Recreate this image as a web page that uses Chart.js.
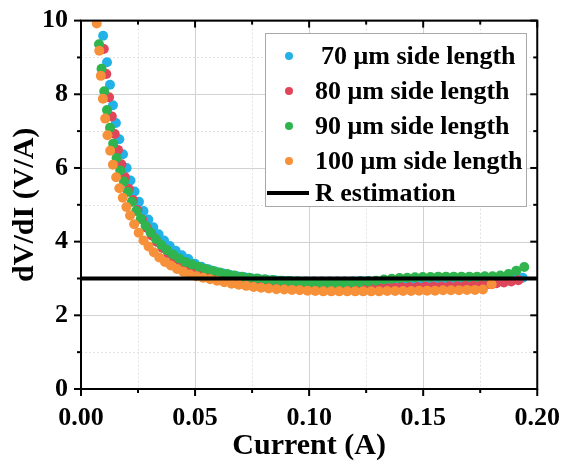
<!DOCTYPE html>
<html>
<head>
<meta charset="utf-8">
<script src="https://cdn.jsdelivr.net/npm/chart.js@4.4.0/dist/chart.umd.min.js"></script>
<style>
  body { margin: 0; background: #fff; }
  #wrap { position: relative; width: 566px; height: 466px; }
  #legend {
    position: absolute; left: 265px; top: 33px; width: 262px; height: 174px;
    border: 1px solid #a8a8a8; background: #fff; box-sizing: border-box;
    font: bold 26px "Liberation Serif", "Times New Roman", serif; color: #000;
  }
  .row { position: absolute; left: 0; height: 30px; line-height: 30px; white-space: nowrap; }
  .dot { position: absolute; left: 19px; top: 11px; width: 8px; height: 8px; border-radius: 50%; }
  .txt { position: absolute; left: 49px; top: 0; }
  .bar { position: absolute; left: 1px; top: 13px; width: 42px; height: 4px; background: #000; }
</style>
</head>
<body>
<div id="wrap">
  <canvas id="chart" width="566" height="466"></canvas>
  <div id="legend"></div>
</div>
<script>
// courant (A) et dV/dI (V/A), une paire de listes par taille de pixel
const i70 = [0.0097, 0.0114, 0.0127, 0.0140, 0.0153, 0.0168, 0.0184, 0.0200, 0.0217, 0.0235, 0.0254, 0.0274, 0.0295, 0.0317, 0.0340, 0.0364, 0.0389, 0.0415, 0.0442, 0.0470, 0.0499, 0.0528, 0.0558, 0.0589, 0.0620, 0.0652, 0.0684, 0.0717, 0.0750, 0.0783, 0.0817, 0.0851, 0.0885, 0.0919, 0.0953, 0.0987, 0.1021, 0.1055, 0.1089, 0.1123, 0.1157, 0.1191, 0.1225, 0.1259, 0.1293, 0.1327, 0.1361, 0.1395, 0.1429, 0.1463, 0.1497, 0.1531, 0.1565, 0.1599, 0.1633, 0.1667, 0.1701, 0.1735, 0.1769, 0.1803, 0.1837, 0.1870, 0.1903, 0.1936];
const r70 = [9.59, 8.87, 8.26, 7.70, 7.22, 6.78, 6.37, 6.00, 5.66, 5.36, 5.08, 4.83, 4.60, 4.39, 4.20, 4.03, 3.88, 3.75, 3.63, 3.53, 3.40, 3.32, 3.25, 3.19, 3.14, 3.10, 3.06, 3.03, 3.00, 2.98, 2.96, 2.95, 2.94, 2.93, 2.92, 2.92, 2.92, 2.92, 2.92, 2.92, 2.92, 2.92, 2.93, 2.93, 2.93, 2.93, 2.93, 2.94, 2.94, 2.94, 2.94, 2.95, 2.95, 2.95, 2.95, 2.96, 2.96, 2.96, 2.97, 2.97, 2.98, 2.99, 3.00, 3.02];

const i80 = [0.0100, 0.0111, 0.0123, 0.0135, 0.0148, 0.0162, 0.0177, 0.0193, 0.0210, 0.0228, 0.0247, 0.0267, 0.0288, 0.0310, 0.0333, 0.0357, 0.0382, 0.0408, 0.0435, 0.0463, 0.0492, 0.0521, 0.0551, 0.0582, 0.0613, 0.0645, 0.0677, 0.0710, 0.0743, 0.0777, 0.0811, 0.0845, 0.0880, 0.0915, 0.0950, 0.0985, 0.1020, 0.1055, 0.1090, 0.1125, 0.1160, 0.1195, 0.1230, 0.1265, 0.1300, 0.1335, 0.1370, 0.1405, 0.1440, 0.1475, 0.1510, 0.1545, 0.1580, 0.1615, 0.1650, 0.1685, 0.1720, 0.1754, 0.1788, 0.1821, 0.1854, 0.1886, 0.1917];
const r80 = [9.23, 8.55, 7.92, 7.40, 6.92, 6.49, 6.10, 5.75, 5.43, 5.13, 4.86, 4.61, 4.38, 4.17, 3.99, 3.83, 3.68, 3.55, 3.44, 3.34, 3.25, 3.17, 3.10, 3.04, 2.99, 2.95, 2.91, 2.88, 2.86, 2.84, 2.82, 2.81, 2.80, 2.79, 2.78, 2.78, 2.77, 2.77, 2.77, 2.76, 2.76, 2.76, 2.76, 2.76, 2.76, 2.76, 2.77, 2.77, 2.77, 2.77, 2.78, 2.78, 2.78, 2.79, 2.79, 2.80, 2.81, 2.83, 2.85, 2.87, 2.89, 2.92, 2.95];

const i90 = [0.0079, 0.0090, 0.0102, 0.0114, 0.0127, 0.0141, 0.0156, 0.0172, 0.0188, 0.0205, 0.0223, 0.0242, 0.0262, 0.0283, 0.0305, 0.0328, 0.0352, 0.0377, 0.0403, 0.0430, 0.0458, 0.0487, 0.0516, 0.0546, 0.0577, 0.0608, 0.0640, 0.0672, 0.0705, 0.0738, 0.0772, 0.0806, 0.0840, 0.0874, 0.0908, 0.0943, 0.0978, 0.1013, 0.1048, 0.1083, 0.1118, 0.1153, 0.1188, 0.1223, 0.1258, 0.1293, 0.1328, 0.1362, 0.1396, 0.1430, 0.1464, 0.1498, 0.1532, 0.1566, 0.1600, 0.1634, 0.1668, 0.1702, 0.1736, 0.1770, 0.1804, 0.1838, 0.1874, 0.1908, 0.1943];
const r90 = [9.36, 8.69, 8.08, 7.57, 7.09, 6.66, 6.27, 5.93, 5.63, 5.35, 5.08, 4.83, 4.62, 4.43, 4.25, 4.07, 3.91, 3.77, 3.65, 3.54, 3.45, 3.38, 3.32, 3.26, 3.21, 3.16, 3.12, 3.08, 3.05, 3.02, 3.00, 2.98, 2.96, 2.94, 2.93, 2.92, 2.91, 2.90, 2.89, 2.88, 2.88, 2.88, 2.89, 2.90, 2.92, 2.94, 2.97, 2.99, 3.01, 3.02, 3.03, 3.04, 3.04, 3.05, 3.05, 3.05, 3.05, 3.05, 3.05, 3.06, 3.06, 3.08, 3.12, 3.21, 3.31];

const i100 = [0.0069, 0.0080, 0.0087, 0.0096, 0.0106, 0.0116, 0.0128, 0.0140, 0.0154, 0.0168, 0.0183, 0.0199, 0.0215, 0.0233, 0.0253, 0.0274, 0.0296, 0.0319, 0.0343, 0.0368, 0.0394, 0.0421, 0.0449, 0.0477, 0.0506, 0.0536, 0.0566, 0.0597, 0.0628, 0.0660, 0.0692, 0.0724, 0.0757, 0.0790, 0.0823, 0.0857, 0.0891, 0.0925, 0.0959, 0.0993, 0.1027, 0.1062, 0.1097, 0.1132, 0.1167, 0.1202, 0.1237, 0.1272, 0.1307, 0.1342, 0.1377, 0.1412, 0.1447, 0.1482, 0.1517, 0.1552, 0.1587, 0.1622, 0.1657, 0.1692, 0.1727, 0.1762, 0.1800];
const r100 = [9.92, 9.18, 8.50, 7.88, 7.34, 6.89, 6.47, 6.09, 5.75, 5.45, 5.19, 4.94, 4.71, 4.47, 4.24, 4.03, 3.87, 3.71, 3.57, 3.45, 3.35, 3.26, 3.18, 3.11, 3.06, 3.02, 2.98, 2.94, 2.90, 2.86, 2.83, 2.80, 2.77, 2.75, 2.73, 2.71, 2.70, 2.69, 2.68, 2.67, 2.66, 2.65, 2.65, 2.65, 2.65, 2.65, 2.65, 2.65, 2.65, 2.66, 2.66, 2.66, 2.66, 2.67, 2.67, 2.67, 2.68, 2.68, 2.68, 2.69, 2.69, 2.70, 2.84];

const seriesNames = [' 70 μm side length', '80 μm side length', '90 μm side length', '100 μm side length'];
const seriesColors = ['#22b2e8', '#df4659', '#2fb44e', '#f6913a'];
const rEstimate = 3.0;
const xTicks = [0, 0.05, 0.10, 0.15, 0.20];
const xMinor = [0.025, 0.075, 0.125, 0.175];
const yTicks = [0, 2, 4, 6, 8, 10];
const yMinor = [1, 3, 5, 7, 9];

const toPts = (xs, ys) => xs.map((v, k) => ({ x: v, y: ys[k] }));
const serif = '"Liberation Serif", "Times New Roman", serif';

// grille + cadre façon Origin (ticks vers l'extérieur en bas/gauche, vers l'intérieur en haut/droite)
const framePlugin = {
  id: 'frame',
  beforeDatasetsDraw(chart) {
    const { ctx, chartArea: a, scales: { x, y } } = chart;
    ctx.save();
    ctx.lineWidth = 1;
    ctx.strokeStyle = '#e2e2e2';
    ctx.setLineDash([2, 2]);
    xMinor.forEach(v => { const p = Math.round(x.getPixelForValue(v)) + 0.5; ctx.beginPath(); ctx.moveTo(p, a.top); ctx.lineTo(p, a.bottom); ctx.stroke(); });
    yMinor.forEach(v => { const p = Math.round(y.getPixelForValue(v)) + 0.5; ctx.beginPath(); ctx.moveTo(a.left, p); ctx.lineTo(a.right, p); ctx.stroke(); });
    ctx.setLineDash([]);
    ctx.strokeStyle = '#d2d2d2';
    xTicks.forEach(v => { const p = Math.round(x.getPixelForValue(v)) + 0.5; ctx.beginPath(); ctx.moveTo(p, a.top); ctx.lineTo(p, a.bottom); ctx.stroke(); });
    yTicks.forEach(v => { const p = Math.round(y.getPixelForValue(v)) + 0.5; ctx.beginPath(); ctx.moveTo(a.left, p); ctx.lineTo(a.right, p); ctx.stroke(); });
    ctx.restore();
  },
  afterDatasetsDraw(chart) {
    const { ctx, chartArea: a, scales: { x, y } } = chart;
    ctx.save();
    ctx.strokeStyle = '#000';
    ctx.lineWidth = 2;
    ctx.strokeRect(a.left, a.top, a.right - a.left, a.bottom - a.top);
    const tick = (vals, len) => {
      vals.forEach(v => {
        const p = x.getPixelForValue(v);
        ctx.beginPath(); ctx.moveTo(p, a.bottom); ctx.lineTo(p, a.bottom + len); ctx.stroke();
        ctx.beginPath(); ctx.moveTo(p, a.top); ctx.lineTo(p, a.top + len); ctx.stroke();
      });
    };
    const tickY = (vals, len) => {
      vals.forEach(v => {
        const p = y.getPixelForValue(v);
        ctx.beginPath(); ctx.moveTo(a.left, p); ctx.lineTo(a.left - len, p); ctx.stroke();
        ctx.beginPath(); ctx.moveTo(a.right, p); ctx.lineTo(a.right - len, p); ctx.stroke();
      });
    };
    tick(xTicks, 7); tick(xMinor, 4);
    tickY(yTicks, 7); tickY(yMinor, 4);
    ctx.restore();
  }
};

const datasets = [i70, i80, i90, i100].map((xs, k) => ({
  type: 'scatter',
  label: seriesNames[k],
  data: toPts(xs, [r70, r80, r90, r100][k]),
  backgroundColor: seriesColors[k],
  borderWidth: 0,
  pointRadius: 5,
  order: 4 - k
}));
datasets.push({
  type: 'line',
  label: 'R estimation',
  data: [{ x: 0, y: rEstimate }, { x: 0.2, y: rEstimate }],
  borderColor: '#000',
  borderWidth: 4,
  pointRadius: 0,
  order: 0
});

new Chart(document.getElementById('chart'), {
  type: 'scatter',
  data: { datasets },
  options: {
    responsive: false,
    animation: false,
    devicePixelRatio: 1,
    layout: { padding: { top: 18, right: 24, left: 0, bottom: 0 } },
    plugins: { legend: { display: false }, tooltip: { enabled: false } },
    scales: {
      x: {
        type: 'linear', min: 0, max: 0.2,
        afterBuildTicks: s => { s.ticks = xTicks.map(v => ({ value: v })); },
        afterFit: s => { s.height = 77; },
        grid: { display: false }, border: { display: false },
        ticks: { callback: v => v.toFixed(2), color: '#000', padding: 6, maxRotation: 0, autoSkip: false,
                 font: { family: serif, size: 26, weight: 'bold' } },
        title: { display: true, text: 'Current (A)', color: '#000', padding: { bottom: 2 },
                 font: { family: serif, size: 30, weight: 'bold' } }
      },
      y: {
        type: 'linear', min: 0, max: 10,
        afterBuildTicks: s => { s.ticks = yTicks.map(v => ({ value: v })); },
        afterFit: s => { s.width = 81; },
        grid: { display: false }, border: { display: false },
        ticks: { callback: v => String(v), color: '#000', padding: 5,
                 font: { family: serif, size: 26, weight: 'bold' } },
        title: { display: true, text: 'dV/dI (V/A)', color: '#000', padding: { top: 7 },
                 font: { family: serif, size: 30, weight: 'bold' } }
      }
    }
  },
  plugins: [framePlugin]
});

// légende HTML placée dans le cadre, comme sur la figure
const legend = document.getElementById('legend');
const rowTops = [7, 42, 77, 112, 144];
seriesNames.forEach((name, k) => {
  const row = document.createElement('div');
  row.className = 'row';
  row.style.top = rowTops[k] + 'px';
  row.innerHTML = '<span class="dot" style="background:' + seriesColors[k] + '"></span><span class="txt"></span>';
  row.querySelector('.txt').textContent = name.trim();
  if (k === 0) row.querySelector('.txt').style.left = '55px';
  legend.appendChild(row);
});
const rRow = document.createElement('div');
rRow.className = 'row';
rRow.style.top = rowTops[4] + 'px';
rRow.innerHTML = '<span class="bar"></span><span class="txt">R estimation</span>';
legend.appendChild(rRow);
</script>
</body>
</html>
